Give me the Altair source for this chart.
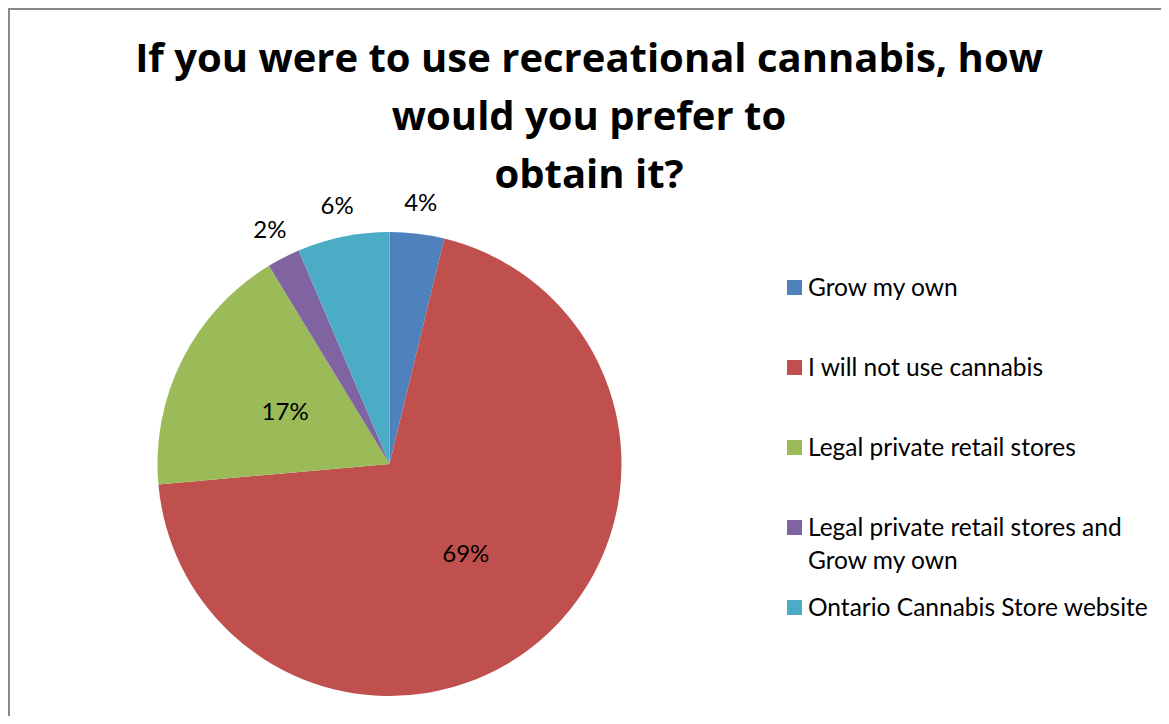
import altair as alt
import pandas as pd

categories = ["Grow my own", "I will not use cannabis", "Legal private retail stores",
              "Legal private retail stores and Grow my own", "Ontario Cannabis Store website"]
legend_labels = ["Grow my own", "I will not use cannabis", "Legal private retail stores",
                 "Legal private retail stores and\nGrow my own", "Ontario Cannabis Store website"]
shares = [3.8, 69.8, 17.7, 2.3, 6.4]
pct_labels = ["4%", "69%", "17%", "2%", "6%"]
colors = ["#4F81BD", "#C0504D", "#9BBB59", "#8064A2", "#4BACC6"]
order = [0, 1, 2, 3, 4]
title_lines = ["If you were to use recreational cannabis, how", "would you prefer to", "obtain it?"]

df = pd.DataFrame({"category": categories, "legend": legend_labels, "share": shares,
                   "label": pct_labels, "order": order})

W, H = 1153, 708
CX, CY, R = 381.5, 456, 232
FONT = "Lato"

base = alt.Chart(df)
color = alt.Color("category:N", scale=alt.Scale(domain=categories, range=colors), legend=None)
theta = alt.Theta("share:Q", stack=True)
ordr = alt.Order("order:Q", sort="ascending")

pie = base.mark_arc(outerRadius=R).encode(
    theta=theta, color=color, order=ordr, x=alt.value(CX), y=alt.value(CY))

inner = base.mark_text(radius=117, fontSize=24, font=FONT, color="#000000", dy=2).encode(
    theta=theta, order=ordr, x=alt.value(CX), y=alt.value(CY),
    text=alt.condition("datum.share >= 10", "label:N", alt.value("")))

outer = base.mark_text(radius=262, fontSize=24, font=FONT, color="#000000").encode(
    theta=theta, order=ordr, x=alt.value(CX), y=alt.value(CY),
    text=alt.condition("datum.share < 10", "label:N", alt.value("")))

ypos = alt.Y("category:N", scale=alt.Scale(type="point", domain=categories,
                                            range=[279.5, 599.5], padding=0), axis=None)

leg_sym = base.mark_square(size=225, opacity=1).encode(x=alt.value(786.5), y=ypos, color=color)
leg_txt = base.mark_text(align="left", baseline="alphabetic", dy=8, lineBreak="\n",
                         lineHeight=33, fontSize=24.5, font=FONT, color="#000000").encode(
    x=alt.value(800), y=ypos, text="legend:N")

title_df = pd.DataFrame({"t": ["\n".join(title_lines)]})
title = alt.Chart(title_df).mark_text(align="center", baseline="alphabetic", lineBreak="\n",
                                      lineHeight=58, fontSize=40, fontWeight="bold",
                                      font="Open Sans", color="#000000").encode(
    x=alt.value(581), y=alt.value(64), text="t:N")

frame_df = pd.DataFrame({"k": [0]})
left_line = alt.Chart(frame_df).mark_rule(color="#898989", strokeWidth=2).encode(
    x=alt.value(1), y=alt.value(0), y2=alt.value(H))
top_line = alt.Chart(frame_df).mark_rule(color="#898989", strokeWidth=2).encode(
    x=alt.value(0), x2=alt.value(W), y=alt.value(1))

chart = alt.layer(pie, inner, outer, leg_sym, leg_txt, title, left_line, top_line).properties(
    width=W, height=H, padding=0, autosize=alt.AutoSizeParams(type="none")
).configure_view(stroke=None).resolve_scale(theta="shared")

chart.save("out.html", embed_options={"renderer": "svg", "actions": False})
